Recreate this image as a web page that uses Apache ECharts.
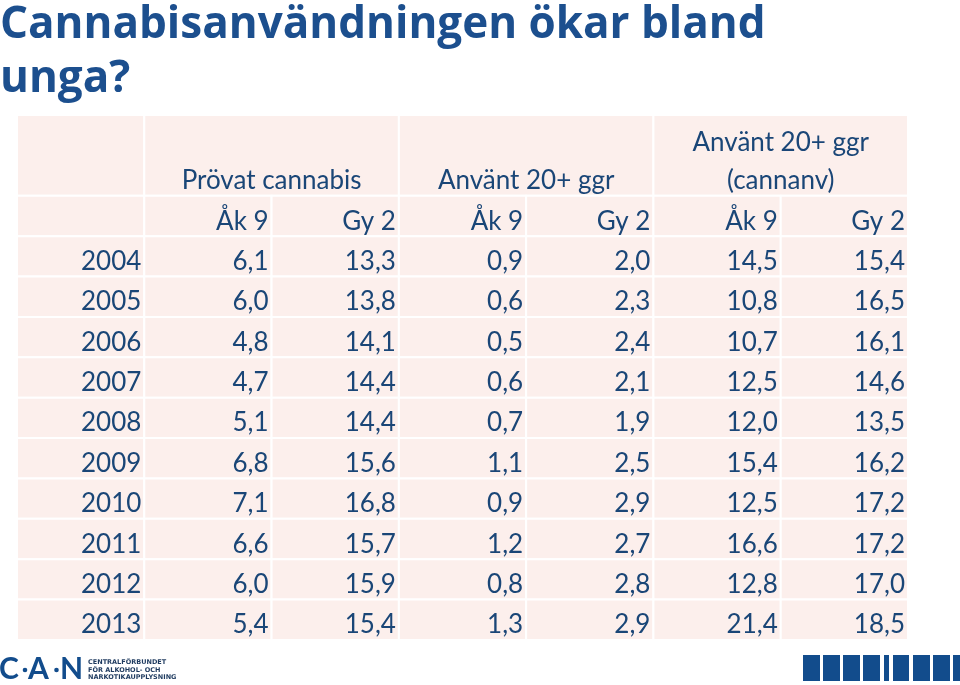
<!DOCTYPE html>
<html><head><meta charset="utf-8">
<script src="https://cdn.jsdelivr.net/npm/echarts@6/dist/echarts.min.js"></script>
<style>html,body{margin:0;padding:0;background:#fff}#c{width:960px;height:685px}</style>
</head><body><div id="c"></div>
<script>
const years = ['2004','2005','2006','2007','2008','2009','2010','2011','2012','2013'];
const groupHeaders = ['Prövat cannabis', 'Använt 20+ ggr', 'Använt 20+ ggr\n(cannanv)'];
const subHeaders = ['Åk 9', 'Gy 2'];
const provatAk9 = [6.1, 6.0, 4.8, 4.7, 5.1, 6.8, 7.1, 6.6, 6.0, 5.4];
const provatGy2 = [13.3, 13.8, 14.1, 14.4, 14.4, 15.6, 16.8, 15.7, 15.9, 15.4];
const anvAk9 = [0.9, 0.6, 0.5, 0.6, 0.7, 1.1, 0.9, 1.2, 0.8, 1.3];
const anvGy2 = [2.0, 2.3, 2.4, 2.1, 1.9, 2.5, 2.9, 2.7, 2.8, 2.9];
const cannAk9 = [14.5, 10.8, 10.7, 12.5, 12.0, 15.4, 12.5, 16.6, 12.8, 21.4];
const cannGy2 = [15.4, 16.5, 16.1, 14.6, 13.5, 16.2, 17.2, 17.2, 17.0, 18.5];

const valueCols = [provatAk9, provatGy2, anvAk9, anvGy2, cannAk9, cannGy2];
const fmt = v => v.toFixed(1).replace('.', ',');

// cells: [x0, x1, y0, y1], text, align
const cells = [];
cells.push({box: [0, 1, 0, 2], text: '', align: 'right'});
groupHeaders.forEach((g, i) => cells.push({box: [1 + 2 * i, 3 + 2 * i, 0, 2], text: g, align: 'center'}));
cells.push({box: [0, 1, 2, 3], text: '', align: 'right'});
for (let i = 0; i < 6; i++) cells.push({box: [1 + i, 2 + i, 2, 3], text: subHeaders[i % 2], align: 'right'});
years.forEach((y, r) => {
  cells.push({box: [0, 1, 3 + r, 4 + r], text: y, align: 'right'});
  valueCols.forEach((col, c) => cells.push({box: [1 + c, 2 + c, 3 + r, 4 + r], text: fmt(col[r]), align: 'right'}));
});

const TXT = '#1A4677';
const FONT = 'Lato, "Open Sans", sans-serif';

const chart = echarts.init(document.getElementById('c'), null, {renderer: 'canvas'});
const bars = [[803,17],[823,17],[843,17],[863,17],[884,5],[893,16],[913,17],[933,17],[953,7]];
chart.setOption({
  animation: false,
  backgroundColor: '#fff',
  title: {
    text: 'Cannabisanvändningen ökar bland\nunga?',
    left: 0, top: -2, padding: 0,
    textStyle: {fontFamily: '"Open Sans", sans-serif', fontWeight: 'bold', fontSize: 44, lineHeight: 54, color: '#1C4F8E'}
  },
  grid: {left: 17, right: 52, top: 115, bottom: 45},
  xAxis: {type: 'value', min: 0, max: 7, show: false},
  yAxis: {type: 'value', min: 0, max: 13, inverse: true, show: false},
  series: [{
    type: 'custom',
    encode: {x: [0, 1], y: [2, 3]},
    data: cells.map(c => c.box),
    renderItem: function (params, api) {
      const cell = cells[params.dataIndex];
      const p0 = api.coord([api.value(0), api.value(2)]);
      const p1 = api.coord([api.value(1), api.value(3)]);
      const children = [{
        type: 'rect',
        shape: {x: p0[0], y: p0[1], width: p1[0] - p0[0], height: p1[1] - p0[1]},
        style: {fill: '#FCEFEC', stroke: '#fff', lineWidth: 2}
      }];
      const lines = cell.text ? cell.text.split('\n') : [];
      const n = lines.length;
      lines.forEach((t, i) => {
        const tx = cell.align === 'center' ? (p0[0] + p1[0]) / 2 : p1[0] - 3;
        const ty = p1[1] - 15 - (n - 1 - i) * 38;
        children.push({
          type: 'text',
          style: {text: t, x: tx, y: ty, align: cell.align, verticalAlign: 'middle',
                  fill: TXT, font: '26px ' + FONT}
        });
      });
      return {type: 'group', children: children};
    }
  }],
  graphic: [
    {type: 'text', left: -1, top: 654, style: {text: 'C', font: 'bold 30px Lato, sans-serif', fill: '#124C8C'}},
    {type: 'circle', shape: {cx: 25, cy: 670, r: 2.3}, style: {fill: '#124C8C'}},
    {type: 'text', left: 28, top: 654, style: {text: 'A', font: 'bold 30px Lato, sans-serif', fill: '#124C8C'}},
    {type: 'circle', shape: {cx: 56.5, cy: 670, r: 2.3}, style: {fill: '#124C8C'}},
    {type: 'text', left: 60, top: 654, style: {text: 'N', font: 'bold 30px Lato, sans-serif', fill: '#124C8C'}},
    {type: 'text', left: 88, top: 659, style: {text: 'CENTRALFÖRBUNDET\nFÖR ALKOHOL- OCH\nNARKOTIKAUPPLYSNING', font: 'bold 6.5px "DejaVu Sans", sans-serif', lineHeight: 7.3, fill: '#1E3A5F'}}
  ].concat(bars.map(b => ({type: 'rect', shape: {x: b[0], y: 655, width: b[1], height: 26}, style: {fill: '#124C8C'}})))
});
</script></body></html>
